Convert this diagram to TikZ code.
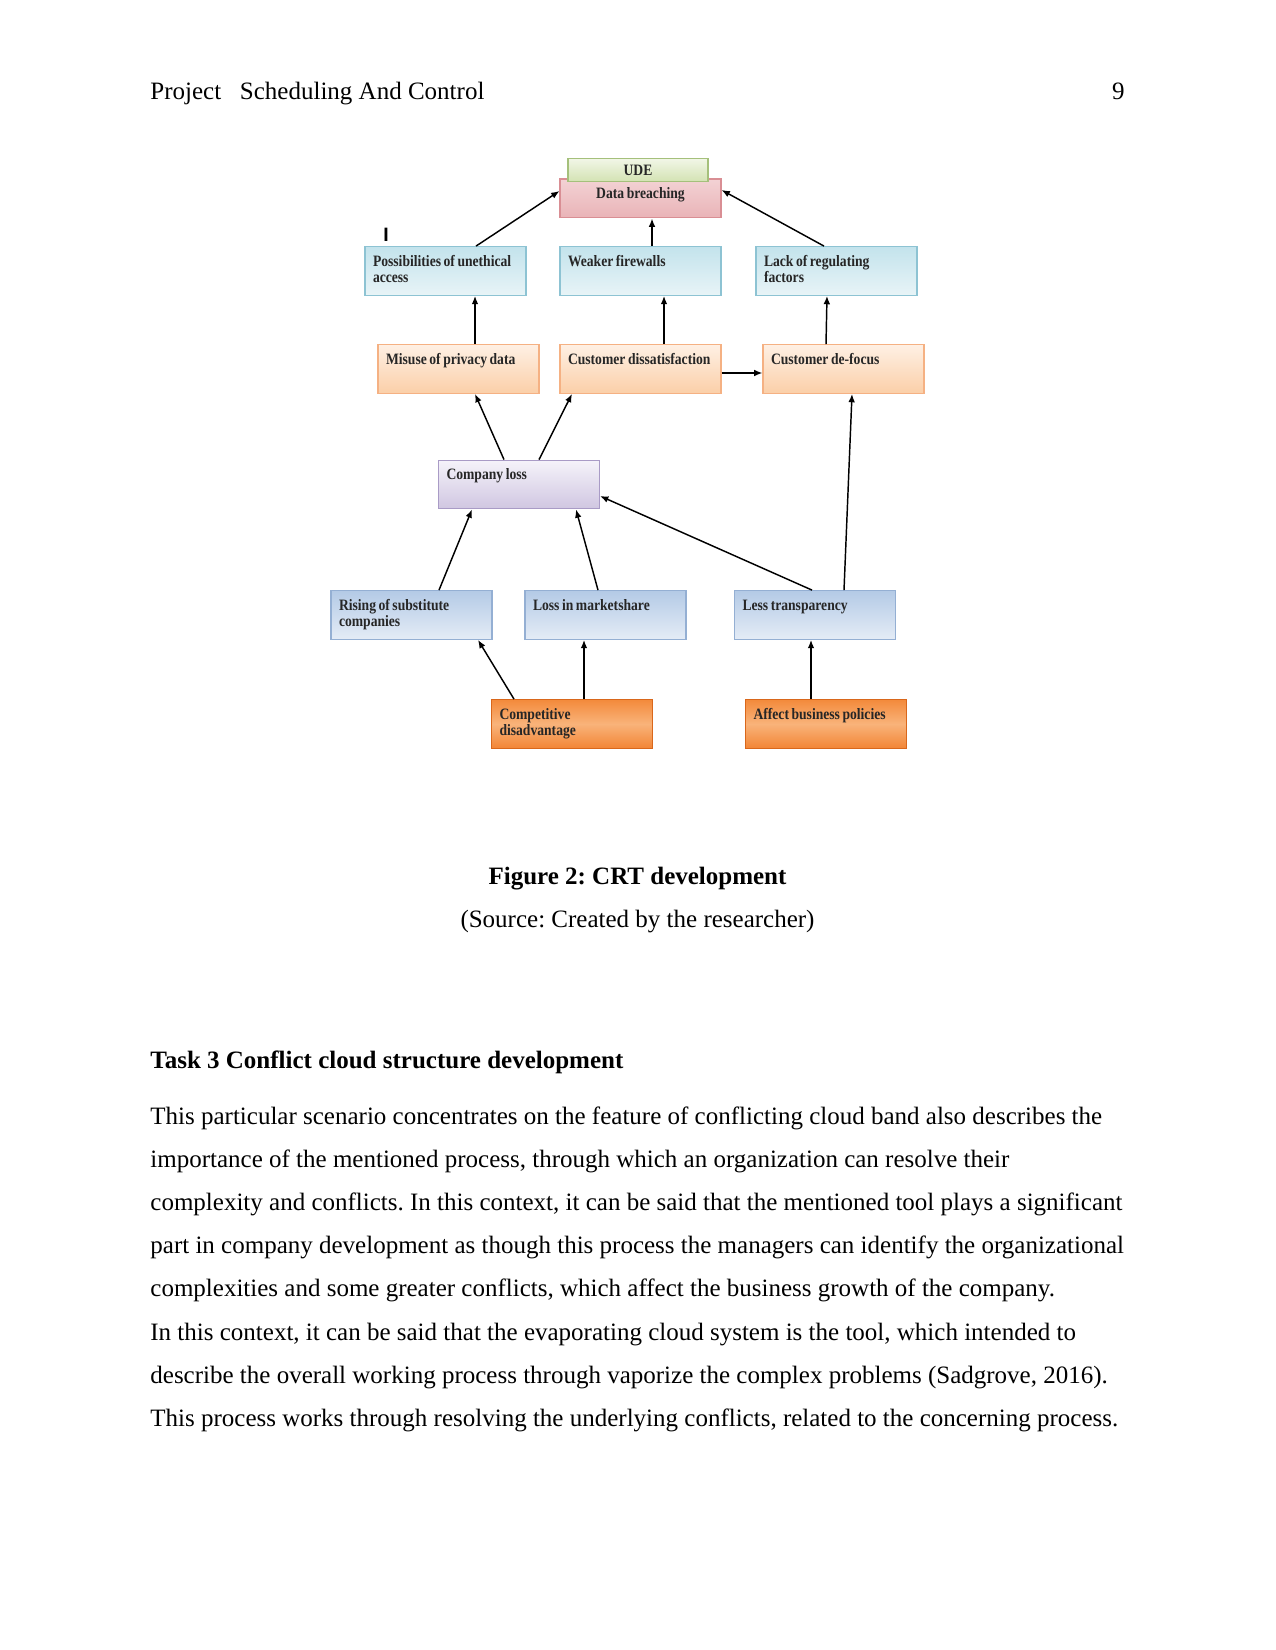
\documentclass[tikz,border=0pt]{standalone}
\usepackage{fontspec}
\setmainfont{Liberation Serif}
\newfontfamily\boxfont{Liberation Serif}[FakeStretch=0.86, BoldFeatures={FakeStretch=0.86}]
\newfontfamily\marksans{Liberation Sans}
\usetikzlibrary{arrows.meta, positioning}
\frenchspacing
\hyphenpenalty=10000

\definecolor{udeTop}{HTML}{F1F6E6}
\definecolor{udeBot}{HTML}{D4E3B4}
\definecolor{udeEdge}{HTML}{A5C07B}
\definecolor{breachTop}{HTML}{F3D2D4}
\definecolor{breachBot}{HTML}{E9B3B7}
\definecolor{breachEdge}{HTML}{D98E94}
\definecolor{cyanTop}{HTML}{C3E3EC}
\definecolor{cyanBot}{HTML}{E8F4F7}
\definecolor{cyanEdge}{HTML}{8DC3D3}
\definecolor{peachTop}{HTML}{FEF0E4}
\definecolor{peachBot}{HTML}{FBCFA8}
\definecolor{peachEdge}{HTML}{F5B183}
\definecolor{lavTop}{HTML}{F5F3FA}
\definecolor{lavBot}{HTML}{D0C6E1}
\definecolor{lavEdge}{HTML}{A99BC6}
\definecolor{blueTop}{HTML}{B4CAE6}
\definecolor{blueBot}{HTML}{E4ECF6}
\definecolor{blueEdge}{HTML}{94AFD3}
\definecolor{orgTop}{HTML}{F38A3B}
\definecolor{orgMid}{HTML}{F9B37A}
\definecolor{orgBot}{HTML}{F28535}
\definecolor{orgEdge}{HTML}{D9671B}

\begin{document}
\begin{tikzpicture}[x=0.48pt, y=-0.48pt,
      crt/.style={rectangle, draw, line width=0.5pt, align=left, text width=69.6pt, inner xsep=3.84pt, inner ysep=3pt, text height=6.4pt, text depth=11pt, font=\boxfont\bfseries\fontsize{7.6}{7.7}\selectfont, text=black!85, execute at begin node={\spaceskip=0.16em\relax}},
      udebox/.style={rectangle, draw=udeEdge, line width=0.5pt, top color=udeTop, bottom color=udeBot, minimum width=67.2pt, minimum height=10.6pt, inner sep=0pt, font=\boxfont\bfseries\fontsize{7.6}{7.7}\selectfont, text=black!85},
      breachbox/.style={crt, align=center, text depth=6.3pt, draw=breachEdge, top color=breachTop, bottom color=breachBot},
      cyanbox/.style={crt, draw=cyanEdge, top color=cyanTop, bottom color=cyanBot},
      peachbox/.style={crt, draw=peachEdge, top color=peachTop, bottom color=peachBot},
      lavbox/.style={crt, draw=lavEdge, top color=lavTop, bottom color=lavBot},
      bluebox/.style={crt, draw=blueEdge, top color=blueTop, bottom color=blueBot},
      orangebox/.style={crt, draw=orgEdge, top color=orgTop, bottom color=orgBot, middle color=orgMid},
      arrow/.style={-{Latex[length=4pt, width=3.2pt]}, line width=0.7pt},
      page/.style={inner sep=0pt, font=\fontsize{12}{14}\selectfont}
    ]

    \path[use as bounding box, fill=white] (0,0) rectangle (1275,1650);

    \node[page, anchor=base west] (head) at (150,100) {Project\hspace{9pt}Scheduling And Control};
    \node[page, anchor=base east] (pnum) at (1125,100) {9};

    \node[breachbox] (breach) at (640.5,198.5) {Data breaching};
    \node[udebox] (ude) at (638,170) {UDE};

    \node[cyanbox] (unethical) at (445.5,271) {Possibilities of unethical\\access};
    \node[cyanbox] (firewall) at (640.5,271) {Weaker firewalls};
    \node[cyanbox] (regul) at (836.5,271) {Lack of regulating\\factors};
    \node[inner sep=0pt, font=\marksans\bfseries\fontsize{9.3}{10}\selectfont] (mark) at (386,235) {I};

    \node[peachbox] (misuse) at (458.5,369) {Misuse of privacy data};
    \node[peachbox] (dissat) at (640.5,369) {Customer dissatisfaction};
    \node[peachbox] (defocus) at (843.5,369) {Customer de-focus};

    \node[lavbox] (loss) at (519,484.5) {Company loss};

    \node[bluebox] (rising) at (411.5,615) {Rising of substitute\\companies};
    \node[bluebox] (share) at (605.5,615) {Loss in marketshare};
    \node[bluebox] (transp) at (815,615) {Less transparency};

    \node[orangebox] (compet) at (572,724) {Competitive\\disadvantage};
    \node[orangebox] (policy) at (826,724) {Affect business policies};

    \draw[arrow] ([shift={(30.5,0)}]unethical.north) -- ([shift={(0,-7.5)}]breach.west);
    \draw[arrow] ([shift={(11.5,0)}]firewall.north) -- ([shift={(11.5,0)}]breach.south);
    \draw[arrow] ([shift={(-12.5,0)}]regul.north) -- ([shift={(0,-8.5)}]breach.east);
    \draw[arrow] ([shift={(16.5,0)}]misuse.north) -- ([shift={(29.5,0)}]unethical.south);
    \draw[arrow] ([shift={(23.5,0)}]dissat.north) -- ([shift={(23.5,0)}]firewall.south);
    \draw[arrow] ([shift={(0,4)}]dissat.east) -- ([shift={(0,4)}]defocus.west);
    \draw[arrow] ([shift={(-17.5,0)}]defocus.north) -- ([shift={(-9.5,0)}]regul.south);
    \draw[arrow] ([shift={(-15,0)}]loss.north) -- ([shift={(16.5,0)}]misuse.south);
    \draw[arrow] ([shift={(20,0)}]loss.north) -- ([shift={(-68.5,0)}]dissat.south);
    \draw[arrow] ([shift={(27.5,0)}]rising.north) -- ([shift={(-47,0)}]loss.south);
    \draw[arrow] ([shift={(-7.5,0)}]share.north) -- ([shift={(57,0)}]loss.south);
    \draw[arrow] ([shift={(-3,0)}]transp.north) -- ([shift={(0,11.5)}]loss.east);
    \draw[arrow] ([shift={(29,0)}]transp.north) -- ([shift={(8.5,0)}]defocus.south);
    \draw[arrow] ([shift={(-58,0)}]compet.north) -- ([shift={(66.5,0)}]rising.south);
    \draw[arrow] ([shift={(12,0)}]compet.north) -- ([shift={(-21.5,0)}]share.south);
    \draw[arrow] ([shift={(-15,0)}]policy.north) -- ([shift={(-4,0)}]transp.south);

    \node[page, anchor=base, font=\bfseries\fontsize{12}{14}\selectfont] (cap) at (637.5,884) {Figure 2: CRT development};
    \node[page, anchor=base] (src) at (637.5,927) {(Source: Created by the researcher)};

    \node[page, anchor=base west, font=\bfseries\fontsize{12}{14}\selectfont] (task) at (150,1068) {Task 3 Conflict cloud structure development};
    \node[page, anchor=base west] (l1) at (150,1124) {This particular scenario concentrates on the feature of conflicting cloud band also describes the};
    \node[page, anchor=base west] (l2) at (150,1167) {importance of the mentioned process, through which an organization can resolve their};
    \node[page, anchor=base west] (l3) at (150,1210) {complexity and conflicts. In this context, it can be said that the mentioned tool plays a significant};
    \node[page, anchor=base west] (l4) at (150,1253) {part in company development as though this process the managers can identify the organizational};
    \node[page, anchor=base west] (l5) at (150,1296) {complexities and some greater conflicts, which affect the business growth of the company.};
    \node[page, anchor=base west] (l6) at (150,1340) {In this context, it can be said that the evaporating cloud system is the tool, which intended to};
    \node[page, anchor=base west] (l7) at (150,1383) {describe the overall working process through vaporize the complex problems (Sadgrove, 2016).};
    \node[page, anchor=base west] (l8) at (150,1426) {This process works through resolving the underlying conflicts, related to the concerning process.};
  \end{tikzpicture}
\end{document}
